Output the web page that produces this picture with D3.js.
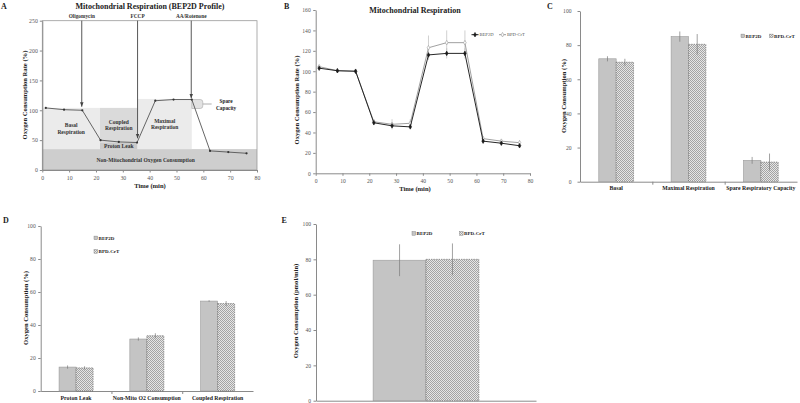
<!DOCTYPE html>
<html><head><meta charset="utf-8">
<script src="https://cdn.jsdelivr.net/npm/d3@7"></script>
<style>body{margin:0;background:#fff}svg{display:block}text{font-family:"Liberation Serif","Times New Roman",serif}</style>
</head><body><svg id="c" width="800" height="403"></svg>
<script>
// ---------- DATA ----------
const timeA = [1.3, 8.1, 14.9, 21.7, 28.5, 35.3, 42.1, 48.9, 55.7, 62.5, 69.3, 76.1];
const ocrA = [104, 101, 100, 50, 47, 46, 116, 118, 118, 32, 30, 28];
const regionNamesA = [["Non-Mitochondrial Oxygen Consumption"], ["Basal", "Respiration"], ["Coupled", "Respiration"], ["Proton Leak"], ["Maximal", "Respiration"]];
const regionX0A = [0, 0, 21.5, 21.5, 35.5];
const regionX1A = [80, 21.5, 35.5, 35.5, 55.7];
const regionY0A = [0, 35, 46, 35, 35];
const regionY1A = [35, 104, 104, 46, 119];
const injectNames = ["Oligomycin", "FCCP", "AA/Rotenone"];
const injectTimes = [14.7, 35.5, 55.5];
const injectEnds = [106, 53, 120];
const spareA = {t0: 55.7, t1: 59.8, v0: 103, v1: 118, tLead: 63.1, vLead: 110.5, tText: 68.5};

const timeB = [1.3, 8.1, 14.9, 21.7, 28.5, 35.3, 42.1, 48.9, 55.7, 62.5, 69.3, 76.1];
const bep2dB = [103, 100.5, 100, 49.5, 46.5, 45.5, 116, 117.5, 117.5, 31.5, 29.5, 27];
const bep2dErrB = [1, 1, 1, 2, 2, 2, 4, 5, 5, 2, 2, 2];
const bpdB = [104.5, 100.5, 100, 50.5, 48, 49, 123, 128, 128, 34, 31.5, 30];
const bpdErrB = [1, 1, 1, 2, 5, 4, 12, 12, 12, 2, 2, 2];

const seriesNames = ["BEP2D", "BPD-CrT"];

const catC = ["Basal", "Maximal Respiration", "Spare Respiratory Capacity"];
const bep2dC = [72, 85, 12.5];
const bep2dErrC = [1.5, 3, 2];
const bpdC = [70, 80.5, 11.5];
const bpdErrC = [2, 6, 5];

const catD = ["Proton Leak", "Non-Mito O2 Consumption", "Coupled Respiration"];
const bep2dD = [14.5, 31.5, 54.5];
const bep2dErrD = [1, 1, 0.5];
const bpdD = [14, 33.5, 53];
const bpdErrD = [1, 1.5, 1.5];

const catE = [""];
const bep2dE = [79.5];
const bep2dErrE = [9];
const bpdE = [80];
const bpdErrE = [9];

// ---------- DRAW ----------
const svg = d3.select("#c");
const defs = svg.append("defs");
const pat = defs.append("pattern").attr("id", "chk").attr("width", 2).attr("height", 2).attr("patternUnits", "userSpaceOnUse");
pat.append("rect").attr("width", 2).attr("height", 2).attr("fill", "#e6e6e6");
pat.append("rect").attr("width", 1).attr("height", 1).attr("fill", "#a4a4a4");
pat.append("rect").attr("x", 1).attr("y", 1).attr("width", 1).attr("height", 1).attr("fill", "#a4a4a4");
defs.append("marker").attr("id", "arr").attr("viewBox", "0 0 10 10").attr("refX", 10).attr("refY", 5)
  .attr("markerWidth", 5).attr("markerHeight", 5).attr("orient", "auto")
  .append("path").attr("d", "M0,1 L10,5 L0,9 Z").attr("fill", "#444");

const AX = "#8a8a8a", TXT = "#222";

function text(g, x, y, s, size, o = {}) {
  const t = g.append("text").attr("x", x).attr("y", y).text(s)
    .attr("font-size", size).attr("fill", o.fill || TXT)
    .attr("font-weight", o.bold === false ? "normal" : "bold")
    .attr("text-anchor", o.anchor || "middle");
  if (o.rot) t.attr("transform", `rotate(-90,${x},${y})`);
  return t;
}
function styleAxis(sel, fs) {
  sel.selectAll(".domain").attr("stroke", AX);
  sel.selectAll(".tick line").attr("stroke", AX);
  sel.selectAll(".tick text").attr("fill", "#555").attr("font-size", fs)
    .attr("font-family", "'Liberation Serif','Times New Roman',serif");
}

// ===== Panel A =====
{
  const g = svg.append("g");
  const x = d3.scaleLinear().domain([0, 80]).range([42.3, 257]);
  const y = d3.scaleLinear().domain([0, 250]).range([170, 20.7]);
  const fills = ["#cecece", "#ebebeb", "#dadada", "#cbcbcb", "#ebebeb"];
  regionNamesA.forEach((nm, i) => {
    g.append("rect").attr("x", x(regionX0A[i])).attr("width", x(regionX1A[i]) - x(regionX0A[i]))
      .attr("y", y(regionY1A[i])).attr("height", y(regionY0A[i]) - y(regionY1A[i])).attr("fill", fills[i]);
  });
  // spare capacity callout
  const sx0 = x(spareA.t0), sx1 = x(spareA.t1), sy0 = y(spareA.v1), sy1 = y(spareA.v0), r = 2.5;
  g.append("path").attr("d", `M${sx0},${sy0} L${sx1 - r},${sy0} Q${sx1},${sy0} ${sx1},${sy0 + r} L${sx1},${sy1 - r} Q${sx1},${sy1} ${sx1 - r},${sy1} L${sx0},${sy1} Z`)
    .attr("fill", "#e2e2e2").attr("stroke", "#aaa").attr("stroke-width", 0.6);
  g.append("line").attr("x1", sx1).attr("x2", x(spareA.tLead)).attr("y1", y(spareA.vLead)).attr("y2", y(spareA.vLead))
    .attr("stroke", "#999").attr("stroke-width", 0.8);
  text(g, x(spareA.tText), y(spareA.vLead) - 1, "Spare", 5.3);
  text(g, x(spareA.tText), y(spareA.vLead) + 5.5, "Capacity", 5.3);
  // frame
  g.append("rect").attr("x", x(0)).attr("y", y(250)).attr("width", x(80) - x(0)).attr("height", y(0) - y(250))
    .attr("fill", "none").attr("stroke", "#9a9a9a").attr("stroke-width", 0.8);
  const ax = g.append("g").attr("transform", `translate(0,${y(0)})`)
    .call(d3.axisBottom(x).tickValues(d3.range(0, 81, 10)).tickSize(2.5).tickSizeOuter(0).tickPadding(3));
  styleAxis(ax, 5.8);
  const ay = g.append("g").attr("transform", `translate(${x(0)},0)`)
    .call(d3.axisLeft(y).tickValues(d3.range(0, 251, 50)).tickSize(2.5).tickSizeOuter(0).tickPadding(2));
  styleAxis(ay, 5.8);
  // region labels
  regionNamesA.forEach((nm, i) => {
    const cx = (x(regionX0A[i]) + x(regionX1A[i])) / 2 + (i === 0 ? -4 : 0);
    const cy = (y(regionY0A[i]) + y(regionY1A[i])) / 2;
    nm.forEach((l, j) => text(g, cx, cy + 2 + (j - (nm.length - 1) / 2) * 6.5, l, 5.5, {fill: "#333"}));
  });
  // data line
  const pts = timeA.map((t, i) => [x(t), y(ocrA[i])]);
  g.append("path").attr("d", d3.line()(pts)).attr("fill", "none").attr("stroke", "#555").attr("stroke-width", 0.9);
  g.selectAll(".pA").data(pts).join("circle").attr("cx", d => d[0]).attr("cy", d => d[1]).attr("r", 1.1).attr("fill", "#333");
  // injections
  injectNames.forEach((nm, i) => {
    g.append("line").attr("x1", x(injectTimes[i])).attr("x2", x(injectTimes[i])).attr("y1", y(250)).attr("y2", y(injectEnds[i]))
      .attr("stroke", "#444").attr("stroke-width", 0.9).attr("marker-end", "url(#arr)");
    text(g, x(injectTimes[i]), 17.5, nm, 5.3, {fill: "#333"});
  });
  text(g, 150, 9, "Mitochondrial Respiration (BEP2D Profile)", 8);
  text(g, 150, 188, "Time (min)", 6.6);
  text(g, 27, 95, "Oxygen Consumption Rate (%)", 6.6, {rot: true});
  text(g, 1, 9, "A", 8, {anchor: "start"});
}

// ===== Panel B =====
{
  const g = svg.append("g");
  const x = d3.scaleLinear().domain([0, 80]).range([315.7, 530]);
  const y = d3.scaleLinear().domain([0, 160]).range([173.3, 10]);
  const ax = g.append("g").attr("transform", `translate(0,${y(0)})`)
    .call(d3.axisBottom(x).tickValues(d3.range(0, 81, 10)).tickSize(2.5).tickSizeOuter(0).tickPadding(3));
  styleAxis(ax, 5.6);
  const ay = g.append("g").attr("transform", `translate(${x(0)},0)`)
    .call(d3.axisLeft(y).tickValues(d3.range(0, 161, 20)).tickSize(2.5).tickSizeOuter(0).tickPadding(2.5));
  styleAxis(ay, 5.6);
  const series = [
    {v: bpdB, e: bpdErrB, col: "#9c9c9c", open: true},
    {v: bep2dB, e: bep2dErrB, col: "#1a1a1a", open: false}
  ];
  const sym = d3.symbol().type(d3.symbolDiamond).size(6);
  series.forEach(s => {
    const pts = timeB.map((t, i) => [x(t), y(s.v[i])]);
    timeB.forEach((t, i) => {
      g.append("line").attr("x1", x(t)).attr("x2", x(t)).attr("y1", y(s.v[i] - s.e[i])).attr("y2", y(s.v[i] + s.e[i]))
        .attr("stroke", "#bbb").attr("stroke-width", 0.7);
    });
    g.append("path").attr("d", d3.line()(pts)).attr("fill", "none").attr("stroke", s.col).attr("stroke-width", 0.95);
    g.selectAll(null).data(pts).join("path").attr("d", sym).attr("transform", d => `translate(${d[0]},${d[1]})`)
      .attr("fill", s.open ? "#fff" : s.col).attr("stroke", s.col).attr("stroke-width", 0.6);
  });
  // legend
  const ly = 34.7;
  [["BEP2D", "#1a1a1a", false, 471.5], ["BPD-CrT", "#9c9c9c", true, 499]].forEach(([nm, col, open, lx]) => {
    g.append("line").attr("x1", lx).attr("x2", lx + 7).attr("y1", ly).attr("y2", ly).attr("stroke", col).attr("stroke-width", 1);
    g.append("path").attr("d", sym).attr("transform", `translate(${lx + 3.5},${ly})`).attr("fill", open ? "#fff" : col).attr("stroke", col).attr("stroke-width", 0.6);
    text(g, lx + 8, ly + 1.6, nm, 4.6, {anchor: "start", bold: false, fill: "#555"});
  });
  text(g, 415, 12.5, "Mitochondrial Respiration", 8);
  text(g, 415, 191, "Time (min)", 6.6);
  text(g, 299, 100, "Oxygen Consumption Rate (%)", 6.6, {rot: true});
  text(g, 284, 9, "B", 8, {anchor: "start"});
}

// ===== Bar panels =====
function barPanel(cfg) {
  const g = svg.append("g");
  const x0 = d3.scaleBand().domain(cfg.cats.map((c, i) => i)).range(cfg.xr).padding(0);
  const x1 = d3.scaleBand().domain(seriesNames).range([0, x0.bandwidth()]).paddingInner(0).paddingOuter(1.08);
  const y = d3.scaleLinear().domain([0, 100]).range(cfg.yr);
  const ay = g.append("g").attr("transform", `translate(${cfg.xr[0]},0)`)
    .call(d3.axisLeft(y).tickValues(d3.range(0, 101, 20)).tickSize(2.5).tickSizeOuter(0).tickPadding(cfg.tp));
  styleAxis(ay, 5.6);
  const xi = d3.scaleLinear().domain([0, cfg.cats.length]).range(cfg.xr);
  const ax = g.append("g").attr("transform", `translate(0,${cfg.yr[0]})`)
    .call(d3.axisBottom(xi).tickValues(d3.range(1, cfg.cats.length)).tickSize(3).tickSizeOuter(0).tickFormat(""));
  styleAxis(ax, 5.6);
  const vals = [cfg.a, cfg.b], errs = [cfg.ea, cfg.eb];
  cfg.cats.forEach((c, i) => {
    seriesNames.forEach((s, k) => {
      const bx = x0(i) + x1(s), bw = x1.bandwidth(), v = vals[k][i];
      g.append("rect").attr("x", bx).attr("y", y(v)).attr("width", bw).attr("height", y(0) - y(v))
        .attr("fill", k === 0 ? "#c4c4c4" : "url(#chk)")
        .attr("stroke", k === 0 ? "#9a9a9a" : "#666").attr("stroke-width", 0.6)
        .attr("stroke-dasharray", k === 0 ? null : "1.5,1");
      const e = errs[k][i];
      g.append("line").attr("x1", bx + bw / 2).attr("x2", bx + bw / 2).attr("y1", y(v - e)).attr("y2", y(v + e))
        .attr("stroke", "#7a7a7a").attr("stroke-width", 0.7);
    });
    if (c) text(g, x0(i) + x0.bandwidth() / 2, cfg.yr[0] + 8.5, c, 5.8);
  });
  cfg.legend.forEach(([lx, ly], k) => {
    g.append("rect").attr("x", lx).attr("y", ly - 3.4).attr("width", 3.6).attr("height", 3.6)
      .attr("fill", k === 0 ? "#c4c4c4" : "url(#chk)").attr("stroke", "#777").attr("stroke-width", 0.4);
    text(g, lx + 4.6, ly, seriesNames[k], 5, {anchor: "start"});
  });
  text(g, cfg.ytx[0], cfg.ytx[1], cfg.ytitle, 6.6, {rot: true});
  text(g, cfg.letter[0], cfg.letter[1], cfg.letter[2], 8, {anchor: "start"});
}

barPanel({cats: catC, a: bep2dC, b: bpdC, ea: bep2dErrC, eb: bpdErrC, xr: [580, 797], yr: [181.7, 11], tp: 6,
  legend: [[741, 37.5], [769.5, 37.5]], ytitle: "Oxygen Consumption (%)", ytx: [565.5, 96], letter: [547, 9, "C"]});
barPanel({cats: catD, a: bep2dD, b: bpdD, ea: bep2dErrD, eb: bpdErrD, xr: [40.7, 253], yr: [391, 226], tp: 2.5,
  legend: [[94, 239.5], [94, 253]], ytitle: "Oxygen Consumption (%)", ytx: [27.5, 308], letter: [3, 222.5, "D"]});
barPanel({cats: catE, a: bep2dE, b: bpdE, ea: bep2dErrE, eb: bpdErrE, xr: [316, 536], yr: [400.7, 224], tp: 2.5,
  legend: [[412, 235], [459.5, 235]], ytitle: "Oxygen Consumption (pmol/min)", ytx: [297.5, 311], letter: [281.5, 222.5, "E"]});
</script></body></html>
